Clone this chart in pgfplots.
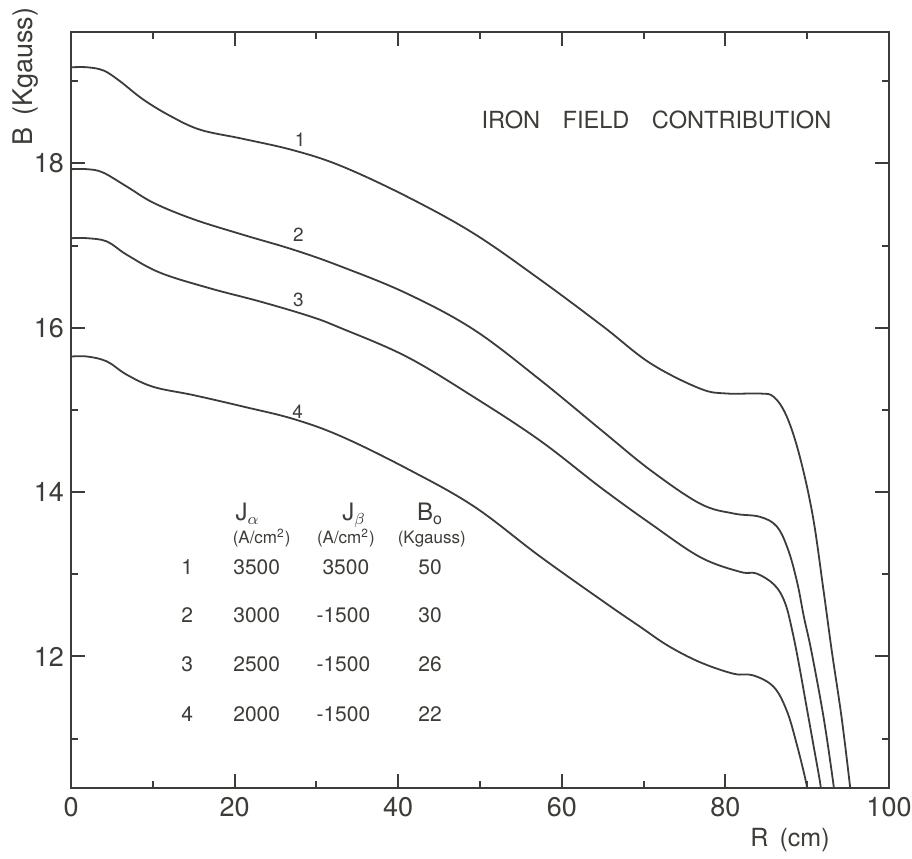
\documentclass[border=0pt]{standalone}
\usepackage{pgfplots}
\pgfplotsset{compat=1.18}
\usepackage{fontspec}
\setmainfont{TeX Gyre Heros}
\definecolor{ink}{HTML}{3C3C38}

\begin{document}
\begin{tikzpicture}
\begin{axis}[
  scale only axis, width=409pt, height=378pt,
  xmin=0, xmax=100, ymin=10.4, ymax=19.6,
  xtick={0,20,...,100}, ytick={12,14,16,18},
  minor xtick={10,30,...,90}, minor ytick={11,13,...,19},
  xtick pos=both, ytick pos=both,
  xticklabel pos=lower, yticklabel pos=left,
  tick align=inside, major tick length=7pt, minor tick length=3.5pt,
  tick style={ink, line width=1pt},
  axis line style={ink, line width=1.2pt},
  ticklabel style={font=\fontsize{13.5}{15}\selectfont, text=ink},
  /pgf/number format/assume math mode=true,
  xticklabel style={yshift=-1pt},
  clip mode=individual,
]
\addplot[ink, line width=0.9pt, smooth, tension=0.6] coordinates {
(0,19.17) (2,19.17) (4,19.13) (6,19.00) (8.8,18.78) (12.1,18.58) (15.8,18.41) (21,18.30) (27.2,18.16) (33,17.97) (41,17.60) (49.2,17.15) (57.3,16.59) (65,16.02) (70.8,15.57) (76.9,15.26) (80.2,15.20) (84.2,15.20) (85.9,15.16) (87.5,14.92) (89.1,14.43) (90.7,13.70) (92.0,12.80) (93.0,12.07) (94.2,11.26) (95.2,10.45) (95.4,10.25)
};
\addplot[ink, line width=0.9pt, smooth, tension=0.6] coordinates {
(0,17.93) (2,17.93) (3.9,17.89) (6.8,17.72) (10.1,17.52) (15,17.32) (21.1,17.13) (27.2,16.95) (32.9,16.75) (41,16.42) (49.2,15.98) (57.3,15.37) (65,14.74) (70.8,14.27) (76.9,13.86) (81,13.74) (84.2,13.70) (86.3,13.58) (87.7,13.29) (88.8,12.89) (89.6,12.48) (90.5,12.07) (92.0,11.26) (93.2,10.45) (93.4,10.25)
};
\addplot[ink, line width=0.9pt, smooth, tension=0.6] coordinates {
(0,17.09) (2,17.09) (4.4,17.05) (6.8,16.89) (10.9,16.67) (17,16.48) (23.1,16.32) (29.2,16.14) (32.9,16.0) (41,15.65) (49.2,15.16) (57.3,14.63) (64.7,14.06) (70.8,13.62) (76.9,13.21) (81.8,13.03) (83.8,13.01) (86.0,12.87) (87.3,12.65) (88.2,12.30) (89.0,11.90) (89.9,11.40) (90.8,10.90) (91.6,10.45) (91.8,10.25)
};
\addplot[ink, line width=0.9pt, smooth, tension=0.6] coordinates {
(0,15.65) (2,15.65) (4.4,15.59) (6.8,15.43) (10.1,15.28) (15,15.18) (21.1,15.04) (27.2,14.89) (33,14.68) (41,14.29) (49.2,13.83) (57.3,13.22) (65.5,12.64) (69.6,12.36) (73,12.13) (76.9,11.93) (81,11.79) (83.4,11.77) (85.9,11.63) (87.5,11.34) (88.7,10.94) (89.9,10.45) (90.1,10.25)
};

% curve labels
\node[text=ink, font=\fontsize{9.5}{10}\selectfont] at (axis cs:28.0,18.29) {1};
\node[text=ink, font=\fontsize{9.5}{10}\selectfont] at (axis cs:27.8,17.13) {2};
\node[text=ink, font=\fontsize{9.5}{10}\selectfont] at (axis cs:27.8,16.34) {3};
\node[text=ink, font=\fontsize{9.5}{10}\selectfont] at (axis cs:27.7,14.98) {4};

% title
\node[text=ink, anchor=base east, inner sep=0pt, font=\fontsize{11.8}{13}\selectfont] at (axis cs:93.0,18.42) {IRON\hspace{0.95em}FIELD\hspace{0.95em}CONTRIBUTION};

% table
\begin{scope}[every node/.style={text=ink, anchor=base, inner sep=0pt}]
\node[font=\fontsize{12}{13}\selectfont] at (axis cs:21.6,13.65) {J\textsubscript{$\alpha$}};
\node[font=\fontsize{12}{13}\selectfont] at (axis cs:34.6,13.65) {J\textsubscript{$\beta$}};
\node[font=\fontsize{12}{13}\selectfont] at (axis cs:43.9,13.65) {B\textsubscript{o}};
\node[font=\fontsize{8.5}{9}\selectfont] at (axis cs:23.3,13.38) {(A/cm\textsuperscript{2})};
\node[font=\fontsize{8.5}{9}\selectfont] at (axis cs:33.6,13.38) {(A/cm\textsuperscript{2})};
\node[font=\fontsize{8.5}{9}\selectfont] at (axis cs:44.1,13.38) {(Kgauss)};
\node[font=\fontsize{10.5}{11}\selectfont] at (axis cs:14.2,13.00) {1};
\node[font=\fontsize{10.5}{11}\selectfont] at (axis cs:22.7,13.00) {3500};
\node[font=\fontsize{10.5}{11}\selectfont] at (axis cs:33.6,13.00) {3500};
\node[font=\fontsize{10.5}{11}\selectfont] at (axis cs:43.9,13.00) {50};
\node[font=\fontsize{10.5}{11}\selectfont] at (axis cs:14.2,12.41) {2};
\node[font=\fontsize{10.5}{11}\selectfont] at (axis cs:22.7,12.41) {3000};
\node[font=\fontsize{10.5}{11}\selectfont] at (axis cs:33.3,12.41) {-1500};
\node[font=\fontsize{10.5}{11}\selectfont] at (axis cs:43.9,12.41) {30};
\node[font=\fontsize{10.5}{11}\selectfont] at (axis cs:14.2,11.82) {3};
\node[font=\fontsize{10.5}{11}\selectfont] at (axis cs:22.7,11.82) {2500};
\node[font=\fontsize{10.5}{11}\selectfont] at (axis cs:33.3,11.82) {-1500};
\node[font=\fontsize{10.5}{11}\selectfont] at (axis cs:43.9,11.82) {26};
\node[font=\fontsize{10.5}{11}\selectfont] at (axis cs:14.2,11.21) {4};
\node[font=\fontsize{10.5}{11}\selectfont] at (axis cs:22.7,11.21) {2000};
\node[font=\fontsize{10.5}{11}\selectfont] at (axis cs:33.3,11.21) {-1500};
\node[font=\fontsize{10.5}{11}\selectfont] at (axis cs:43.9,11.21) {22};
\end{scope}

% axis labels
\node[text=ink, font=\fontsize{12.5}{14}\selectfont] at (rel axis cs:0.879,-0.0688) {R\hspace{0.45em}(cm)};
\node[text=ink, rotate=90, font=\fontsize{13.5}{15}\selectfont] at (rel axis cs:-0.056,0.9405) {B\hspace{0.45em}(Kgauss)};

\coordinate (bbl) at (rel axis cs:-0.0868,-0.0939);
\coordinate (btr) at (rel axis cs:1.0281,1.0423);
\end{axis}
\pgfresetboundingbox
\useasboundingbox (bbl) rectangle (btr);
\end{tikzpicture}
\end{document}
